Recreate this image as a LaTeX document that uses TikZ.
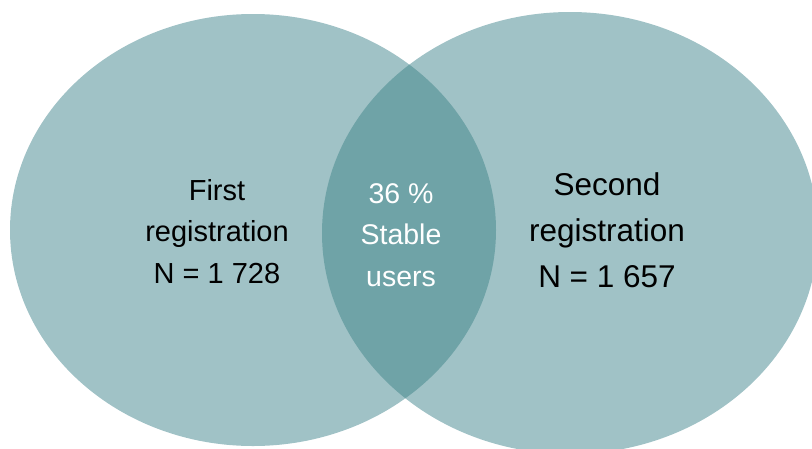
\documentclass[tikz,border=0pt]{standalone}
\usepackage{fontspec}
\setmainfont{Liberation Sans}
\definecolor{vlight}{RGB}{160,194,198}
\definecolor{vdark}{RGB}{111,163,167}
\tikzset{
  lefttxt/.style={anchor=base, inner sep=0pt, text=black, font=\fontsize{29}{35}\selectfont},
  midtxt/.style={anchor=base, inner sep=0pt, text=white, font=\fontsize{28.5}{34}\selectfont},
  righttxt/.style={anchor=base, inner sep=0pt, text=black, font=\fontsize{31.5}{38}\selectfont},
}
\begin{document}
\begin{tikzpicture}[x=1pt,y=-1pt]
\useasboundingbox (0,0) rectangle (812,448);
\clip (0,0) rectangle (812,448);
\fill[vlight] (253,230) ellipse [x radius=243pt, y radius=216pt];
\fill[vlight] (570,233) ellipse [x radius=248pt, y radius=221pt];
\begin{scope}
  \clip (253,230) ellipse [x radius=243pt, y radius=216pt];
  \fill[vdark] (570,233) ellipse [x radius=248pt, y radius=221pt];
\end{scope}
\node[lefttxt] (l1) at (217,200) {First};
\node[lefttxt] (l2) at (217,241.5) {registration};
\node[lefttxt] (l3) at (217,283) {N = 1 728};
\node[midtxt] (m1) at (401,203) {36 \%};
\node[midtxt] (m2) at (401,244.5) {Stable};
\node[midtxt] (m3) at (401,286) {users};
\node[righttxt] (r1) at (607,195) {Second};
\node[righttxt] (r2) at (607,241) {registration};
\node[righttxt] (r3) at (607,287) {N = 1 657};
\end{tikzpicture}
\end{document}
